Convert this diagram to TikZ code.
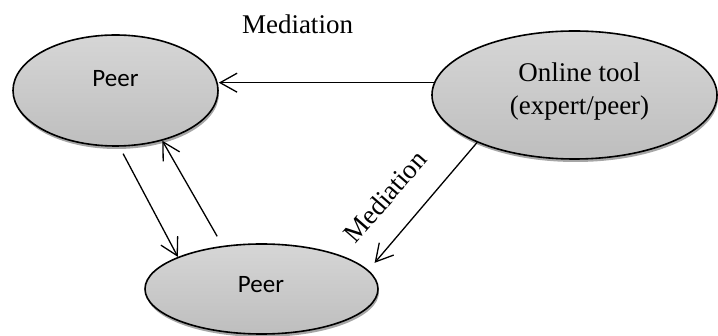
\documentclass[tikz,border=0pt]{standalone}
\usepackage{fontspec}
\setmainfont{Liberation Serif}
\newfontfamily\peerfont{Carlito}
\usetikzlibrary{shapes.geometric,arrows.meta,shadows}
\definecolor{elltop}{RGB}{214,214,214}
\definecolor{ellbot}{RGB}{190,190,190}
\begin{document}
\begin{tikzpicture}[x=1pt,y=-1pt,
  oval/.style={ellipse, draw=black, line width=1.6pt, top color=elltop, bottom color=ellbot, inner sep=0pt,
    drop shadow={shadow xshift=1pt, shadow yshift=-3pt, fill=black, opacity=0.35}},
  serif/.style={font=\fontsize{27}{32.5}\selectfont, inner sep=0pt, align=center},
  sans/.style={font=\peerfont\fontsize{25}{30}\selectfont, inner sep=0pt},
  arr/.style={line width=1.3pt, -{Straight Barb[length=17pt,width=19pt,line width=1.3pt]}}]
\useasboundingbox (0,0) rectangle (718,336);
\node[oval, minimum width=205pt, minimum height=111pt] (peer1) at (115.5,90.5) {};
\node[oval, minimum width=285pt, minimum height=128pt] (tool) at (574.5,95) {};
\node[oval, minimum width=233pt, minimum height=90pt] (peer2) at (261.5,289) {};
\node[sans] (peer1txt) at (115.5,78.5) {Peer};
\node[sans] (peer2txt) at (261,284.5) {Peer};
\node[serif] (tooltxt) at (579.5,91.4) {Online tool\\(expert/peer)};
\node[serif] (med1) at (297.5,24) {Mediation};
\node[serif, rotate=48.8] (med2) at (385,196.5) {Mediation};
\draw[arr] (tool.175) -- (tool.175 -| peer1.east);
\draw[arr, shorten >=9.6pt] (tool.206) -- (peer2.10);
\draw[arr, shorten <=7.8pt] (peer1.274) -- (peer2.159);
\draw[arr, shorten <=10.9pt] (peer2.132) -- (peer1.313);
\end{tikzpicture}
\end{document}
